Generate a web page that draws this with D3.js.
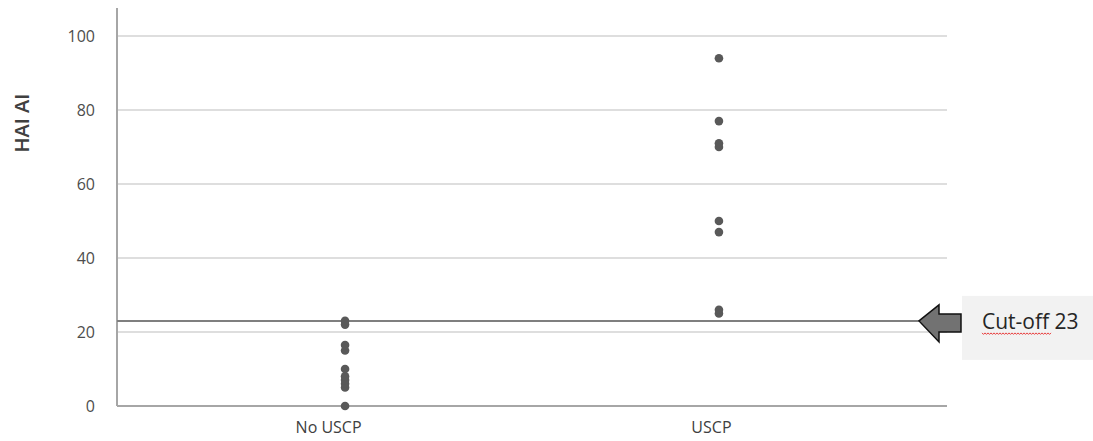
<!DOCTYPE html>
<html>
<head>
<meta charset="utf-8">
<script src="https://cdn.jsdelivr.net/npm/d3@7"></script>
<style>
  body { margin: 0; background: #fff; }
  svg { display: block; font-family: "Open Sans", "Liberation Sans", sans-serif; }
</style>
</head>
<body>
<svg id="chart" width="1093" height="441"></svg>
<script>
// groups on the x axis
var categories = ["No USCP", "USCP"];
// HAI AI values, one array per group
var noUscp = [0, 5, 6, 7, 8, 10, 15, 16.5, 22, 23];
var uscp = [25, 26, 47, 50, 70, 71, 77, 94];
var yTicks = [0, 20, 40, 60, 80, 100];
var cutoff = 23;
var cutoffLabel = "Cut-off 23";

var svg = d3.select("#chart"),
  plotLeft = 117, plotRight = 947, plotTop = 36, plotBottom = 406;

var x = d3.scalePoint().domain(categories).range([plotLeft, plotRight]).padding(0.61);
var y = d3.scaleLinear().domain([0, 100]).range([plotBottom, plotTop]);

// gridlines
svg.append("g")
  .selectAll("line")
  .data(yTicks.slice(1))
  .enter().append("line")
    .attr("x1", plotLeft).attr("x2", plotRight)
    .attr("y1", function(d) { return y(d); })
    .attr("y2", function(d) { return y(d); })
    .attr("stroke", "#dedede")
    .attr("stroke-width", 2);

// y axis
var yAxis = svg.append("g")
  .attr("transform", "translate(" + plotLeft + ",0)")
  .call(d3.axisLeft(y).tickValues(yTicks).tickSize(0).tickPadding(22));
yAxis.select(".domain").remove();
yAxis.selectAll("text")
  .attr("font-size", 16)
  .attr("font-family", "Open Sans, sans-serif")
  .attr("fill", "#4d4d4d");
svg.append("line")
  .attr("x1", plotLeft).attr("x2", plotLeft)
  .attr("y1", 8).attr("y2", plotBottom)
  .attr("stroke", "#a6a6a6").attr("stroke-width", 2);

// x axis (labels sit a little left of their points in the original)
var xAxis = svg.append("g")
  .attr("transform", "translate(0," + plotBottom + ")")
  .call(d3.axisBottom(x).tickSize(0).tickPadding(16));
xAxis.select(".domain").remove();
xAxis.selectAll("text")
  .attr("font-size", 16)
  .attr("font-family", "Open Sans, sans-serif")
  .attr("fill", "#404040")
  .attr("dx", function(d, i) { return i === 0 ? -17 : -8; });
svg.append("line")
  .attr("x1", plotLeft).attr("x2", plotRight)
  .attr("y1", plotBottom).attr("y2", plotBottom)
  .attr("stroke", "#a6a6a6").attr("stroke-width", 2);

// axis title
svg.append("text")
  .attr("transform", "translate(22,123) rotate(-90)")
  .attr("text-anchor", "middle")
  .attr("dy", "0.35em")
  .attr("font-size", 20)
  .attr("font-weight", 600)
  .attr("fill", "#404040")
  .text("HAI AI");

// cut-off line
svg.append("line")
  .attr("x1", plotLeft).attr("x2", 925)
  .attr("y1", y(cutoff)).attr("y2", y(cutoff))
  .attr("stroke", "#7f7f7f").attr("stroke-width", 2);

// points
var points = noUscp.map(function(v) { return { cat: categories[0], v: v }; })
  .concat(uscp.map(function(v) { return { cat: categories[1], v: v }; }));
svg.append("g")
  .selectAll("circle")
  .data(points)
  .enter().append("circle")
    .attr("cx", function(d) { return x(d.cat); })
    .attr("cy", function(d) { return y(d.v); })
    .attr("r", 4.3)
    .attr("fill", "#595959");

// annotation box + arrow
var cy = y(cutoff);
svg.append("rect")
  .attr("x", 962).attr("y", cy - 25)
  .attr("width", 131).attr("height", 64)
  .attr("fill", "#f2f2f2");
svg.append("path")
  .attr("d", "M919," + cy + " L939," + (cy - 16) + " L939," + (cy - 7) +
    " L961," + (cy - 7) + " L961," + (cy + 11) + " L939," + (cy + 11) +
    " L939," + (cy + 21) + " Z")
  .attr("fill", "#727272")
  .attr("stroke", "#111")
  .attr("stroke-width", 1.5)
  .attr("stroke-linejoin", "miter");
svg.append("text")
  .attr("x", 982).attr("y", cy + 8)
  .attr("font-size", 21)
  .attr("font-family", "Open Sans, sans-serif")
  .attr("fill", "#262626")
  .text(cutoffLabel);
// spell-check squiggle under "Cut-off"
var sq = "M982," + (cy + 12);
for (var i = 0; i < 46; i++) sq += " l1.5," + (i % 2 ? -1.5 : 1.5);
svg.append("path")
  .attr("d", sq)
  .attr("fill", "none")
  .attr("stroke", "#e83c3c")
  .attr("stroke-width", 1);
</script>
</body>
</html>
